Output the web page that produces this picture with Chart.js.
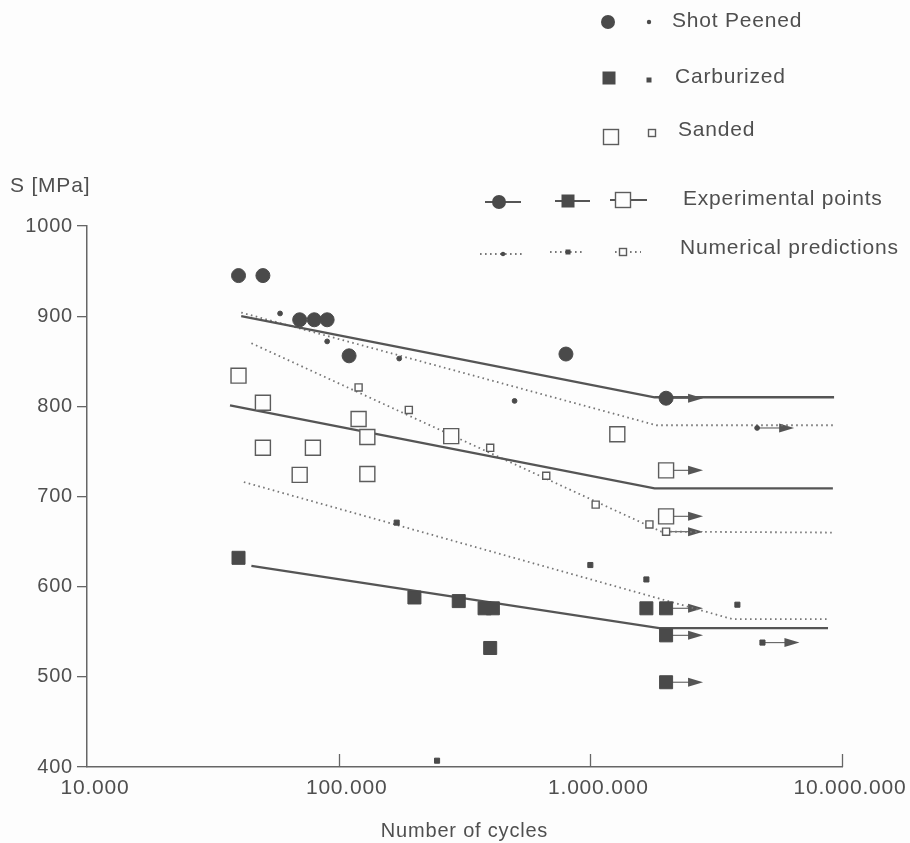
<!DOCTYPE html>
<html>
<head>
<meta charset="utf-8">
<script src="https://cdn.jsdelivr.net/npm/chart.js@4.4.1/dist/chart.umd.min.js"></script>
<style>
  html, body { margin: 0; padding: 0; background: #fdfdfd; }
  #wrap { position: relative; width: 910px; height: 843px; }
</style>
</head>
<body>
<div id="wrap"><canvas id="fatigueChart" width="910" height="843"></canvas></div>
<script>
// axis ticks
const cycleTicks = [10000, 100000, 1000000, 10000000];
const stressTicks = [400, 500, 600, 700, 800, 900, 1000];

// shot peened - experimental points (runout = 1 gets an arrow)
const spExpCycles = [40000, 50000, 70000, 80000, 90000, 110000, 800000, 2000000];
const spExpStress = [945, 945, 896, 896, 896, 856, 858, 809];
const spExpRunout = [0, 0, 0, 0, 0, 0, 0, 1];
const spFitCycles = [41000, 1800000, 9300000];
const spFitStress = [900, 810, 810];
// shot peened - numerical predictions
const spNumCycles = [58500, 90000, 174000, 500000, 4600000];
const spNumStress = [903, 872, 853, 806, 776];
const spNumRunout = [0, 0, 0, 0, 1];
const spNumLineCycles = [41000, 1830000, 9200000];
const spNumLineStress = [904, 779, 779];

// carburized
const cbExpCycles = [40000, 200000, 300000, 380000, 410000, 400000, 1670000, 2000000, 2000000, 2000000];
const cbExpStress = [632, 588, 584, 576, 576, 532, 576, 576, 546, 494];
const cbExpRunout = [0, 0, 0, 0, 0, 0, 0, 1, 1, 1];
const cbFitCycles = [45000, 1880000, 8800000];
const cbFitStress = [623, 554, 554];
const cbNumCycles = [170000, 246000, 1000000, 1670000, 3840000, 4830000];
const cbNumStress = [671, 407, 624, 608, 580, 538];
const cbNumRunout = [0, 0, 0, 0, 0, 1];
const cbNumLineCycles = [42000, 3670000, 8700000];
const cbNumLineStress = [716, 564, 564];

// sanded
const sdExpCycles = [40000, 50000, 50000, 70000, 79000, 120000, 130000, 130000, 280000, 1280000, 2000000, 2000000];
const sdExpStress = [834, 804, 754, 724, 754, 786, 766, 725, 767, 769, 729, 678];
const sdExpRunout = [0, 0, 0, 0, 0, 0, 0, 0, 0, 0, 1, 1];
const sdFitCycles = [37000, 1800000, 9200000];
const sdFitStress = [801, 709, 709];
const sdNumCycles = [120000, 190000, 400000, 668000, 1050000, 1717000, 2000000];
const sdNumStress = [821, 796, 754, 723, 691, 669, 661];
const sdNumRunout = [0, 0, 0, 0, 0, 0, 1];
const sdNumLineCycles = [45000, 1915000, 9300000];
const sdNumLineStress = [870, 661, 660];

const ink = '#4a4a4a';
const lineInk = '#555555';
const dotInk = '#777777';
const textInk = '#4f4f4f';
const paper = '#fdfdfd';
const fontFamily = '"Liberation Sans", Arial, sans-serif';

function points(xs, ys) {
    return xs.map((x, i) => ({ x: x, y: ys[i] }));
}

function dotted(n) {
    return n.toString().replace(/\B(?=(\d{3})+(?!\d))/g, '.');
}

function markerSet(xs, ys, style, radius, filled, runout) {
    return {
        type: 'scatter',
        data: points(xs, ys),
        pointStyle: style,
        pointRadius: radius,
        pointBackgroundColor: filled ? ink : paper,
        pointBorderColor: filled ? ink : '#5c5c5c',
        pointBorderWidth: filled ? 1 : 1.4,
        runout: runout
    };
}

function lineSet(xs, ys, dashedLine) {
    return {
        type: 'line',
        data: points(xs, ys),
        borderColor: dashedLine ? dotInk : lineInk,
        borderWidth: dashedLine ? 1.8 : 2.4,
        borderDash: dashedLine ? [1.6, 3.4] : [],
        pointRadius: 0,
        fill: false,
        tension: 0
    };
}

// arrows for run-out specimens, drawn from the points' own positions
const runoutArrows = {
    id: 'runoutArrows',
    beforeDatasetsDraw(chart) {
        const ctx = chart.ctx;
        chart.data.datasets.forEach((ds, di) => {
            if (!ds.runout) return;
            const meta = chart.getDatasetMeta(di);
            ds.runout.forEach((flag, i) => {
                if (!flag) return;
                const el = meta.data[i];
                const tip = el.x + 37;
                ctx.save();
                ctx.strokeStyle = '#6a6a6a';
                ctx.fillStyle = '#555';
                ctx.lineWidth = 1.2;
                ctx.beginPath();
                ctx.moveTo(el.x, el.y);
                ctx.lineTo(tip - 8, el.y);
                ctx.stroke();
                ctx.beginPath();
                ctx.moveTo(tip, el.y);
                ctx.lineTo(tip - 15, el.y - 4.5);
                ctx.lineTo(tip - 15, el.y + 4.5);
                ctx.closePath();
                ctx.fill();
                ctx.restore();
            });
        });
    }
};

// inward ticks on the cycle axis
const innerTicks = {
    id: 'innerTicks',
    afterDraw(chart) {
        const ctx = chart.ctx;
        const xs = chart.scales.x;
        const area = chart.chartArea;
        ctx.save();
        ctx.strokeStyle = '#666';
        ctx.lineWidth = 1.3;
        cycleTicks.slice(1).forEach(v => {
            const px = Math.round(xs.getPixelForValue(v)) + 0.5;
            ctx.beginPath();
            ctx.moveTo(px, area.bottom);
            ctx.lineTo(px, area.bottom - 13);
            ctx.stroke();
        });
        ctx.restore();
    }
};

function legendMarker(ctx, kind, x, y) {
    ctx.save();
    ctx.fillStyle = ink;
    ctx.strokeStyle = '#5c5c5c';
    ctx.lineWidth = 1.4;
    if (kind === 'bigCircle') {
        ctx.beginPath(); ctx.arc(x, y, 7, 0, Math.PI * 2); ctx.fill();
    } else if (kind === 'smallDot') {
        ctx.beginPath(); ctx.arc(x, y, 2.2, 0, Math.PI * 2); ctx.fill();
    } else if (kind === 'bigSquare') {
        ctx.fillRect(x - 6.5, y - 6.5, 13, 13);
    } else if (kind === 'smallSquare') {
        ctx.fillRect(x - 2.5, y - 2.5, 5, 5);
    } else if (kind === 'openSquare') {
        ctx.fillStyle = paper;
        ctx.fillRect(x - 7.5, y - 7.5, 15, 15);
        ctx.strokeRect(x - 7.5, y - 7.5, 15, 15);
    } else if (kind === 'smallOpen') {
        ctx.fillStyle = paper;
        ctx.fillRect(x - 3.5, y - 3.5, 7, 7);
        ctx.strokeRect(x - 3.5, y - 3.5, 7, 7);
    }
    ctx.restore();
}

function legendLine(ctx, x1, x2, y, dashedLine) {
    ctx.save();
    ctx.strokeStyle = dashedLine ? dotInk : lineInk;
    ctx.lineWidth = dashedLine ? 1.8 : 2;
    ctx.setLineDash(dashedLine ? [1.6, 3.4] : []);
    ctx.beginPath();
    ctx.moveTo(x1, y);
    ctx.lineTo(x2, y);
    ctx.stroke();
    ctx.restore();
}

const legendKey = {
    id: 'legendKey',
    beforeDraw(chart) {
        chart.ctx.letterSpacing = '0.8px';
    },
    afterDraw(chart) {
        const ctx = chart.ctx;
        ctx.save();
        ctx.letterSpacing = '0.8px';
        ctx.fillStyle = textInk;
        ctx.font = '21px ' + fontFamily;
        ctx.textBaseline = 'middle';
        ctx.textAlign = 'left';
        ctx.fillText('S [MPa]', 10, 186);

        legendMarker(ctx, 'bigCircle', 608, 22);
        legendMarker(ctx, 'smallDot', 649, 22);
        ctx.fillText('Shot Peened', 672, 21);

        legendMarker(ctx, 'bigSquare', 609, 78);
        legendMarker(ctx, 'smallSquare', 649, 80);
        ctx.fillText('Carburized', 675, 77);

        legendMarker(ctx, 'openSquare', 611, 137);
        legendMarker(ctx, 'smallOpen', 652, 133);
        ctx.fillText('Sanded', 678, 130);

        legendLine(ctx, 485, 521, 202, false);
        legendMarker(ctx, 'bigCircle', 499, 202);
        legendLine(ctx, 555, 590, 201, false);
        legendMarker(ctx, 'bigSquare', 568, 201);
        legendLine(ctx, 610, 647, 200, false);
        legendMarker(ctx, 'openSquare', 623, 200);
        ctx.fillText('Experimental points', 683, 199);

        legendLine(ctx, 480, 525, 254, true);
        legendMarker(ctx, 'smallDot', 503, 254);
        legendLine(ctx, 550, 584, 252, true);
        legendMarker(ctx, 'smallSquare', 568, 252);
        legendLine(ctx, 615, 641, 252, true);
        legendMarker(ctx, 'smallOpen', 623, 252);
        ctx.fillText('Numerical predictions', 680, 248);
        ctx.restore();
    }
};

const ctx = document.getElementById('fatigueChart').getContext('2d');
const fatigueChart = new Chart(ctx, {
    type: 'scatter',
    data: {
        datasets: [
            markerSet(spExpCycles, spExpStress, 'circle', 7, true, spExpRunout),
            markerSet(cbExpCycles, cbExpStress, 'rect', 9.2, true, cbExpRunout),
            markerSet(sdExpCycles, sdExpStress, 'rect', 10.6, false, sdExpRunout),
            markerSet(spNumCycles, spNumStress, 'circle', 2.4, true, spNumRunout),
            markerSet(cbNumCycles, cbNumStress, 'rect', 3.6, true, cbNumRunout),
            markerSet(sdNumCycles, sdNumStress, 'rect', 5, false, sdNumRunout),
            lineSet(spFitCycles, spFitStress, false),
            lineSet(cbFitCycles, cbFitStress, false),
            lineSet(sdFitCycles, sdFitStress, false),
            lineSet(spNumLineCycles, spNumLineStress, true),
            lineSet(cbNumLineCycles, cbNumLineStress, true),
            lineSet(sdNumLineCycles, sdNumLineStress, true)
        ]
    },
    options: {
        responsive: false,
        animation: false,
        devicePixelRatio: 1,
        clip: false,
        layout: { padding: { top: 226, right: 68, left: 0, bottom: 0 } },
        plugins: {
            legend: { display: false },
            tooltip: { enabled: false }
        },
        scales: {
            x: {
                type: 'logarithmic',
                min: 10000,
                max: 10000000,
                afterBuildTicks: scale => { scale.ticks = cycleTicks.map(v => ({ value: v })); },
                afterFit: scale => { scale.height = 76; },
                border: { display: true, color: '#666', width: 1.5 },
                grid: { drawOnChartArea: false, drawTicks: false },
                ticks: {
                    autoSkip: false,
                    maxRotation: 0,
                    padding: 9,
                    labelOffset: 8,
                    color: textInk,
                    font: { family: fontFamily, size: 21 },
                    callback: v => dotted(v)
                },
                title: {
                    display: true,
                    text: 'Number of cycles',
                    color: textInk,
                    padding: { top: 0, bottom: 0 },
                    font: { family: fontFamily, size: 20 }
                }
            },
            y: {
                min: 400,
                max: 1000,
                afterBuildTicks: scale => { scale.ticks = stressTicks.map(v => ({ value: v })); },
                afterFit: scale => { scale.width = 87; },
                border: { display: true, color: '#666', width: 1.5 },
                grid: { drawOnChartArea: false, drawTicks: true, tickLength: 10, color: '#666', lineWidth: 1.3 },
                ticks: {
                    padding: 4,
                    color: textInk,
                    font: { family: fontFamily, size: 20 },
                    callback: v => String(v)
                }
            }
        }
    },
    plugins: [runoutArrows, innerTicks, legendKey]
});
</script>
</body>
</html>
